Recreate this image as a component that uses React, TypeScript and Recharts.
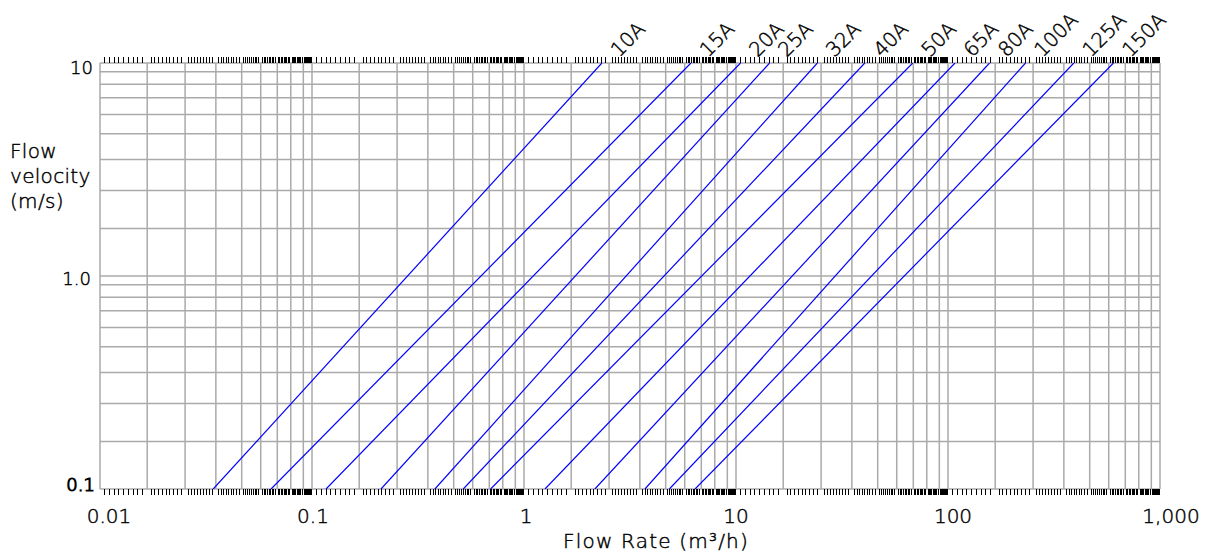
import React from 'react';
import { ComposedChart, Line, XAxis, YAxis, CartesianGrid, LabelList } from 'recharts';

// pipe nominal sizes, one straight line each on the log-log chart
const PIPE_SIZES = ['10A', '15A', '20A', '25A', '32A', '40A', '50A', '65A', '80A', '100A', '125A', '150A'];
// flow rate (m3/h) where each line meets 0.1 m/s and 10 m/s
const FLOW_AT_MIN_VELOCITY = [0.0342, 0.0641, 0.1165, 0.2116, 0.38, 0.517, 0.696, 1.256, 2.16, 3.72, 4.85, 6.41];
const FLOW_AT_MAX_VELOCITY = [2.33, 6.13, 10.5, 14.4, 24.2, 40.5, 68.2, 107.9, 157, 232, 392, 603];
const VELOCITY_MIN = 0.1;
const VELOCITY_MAX = 10;

const X_DECADES = [0.01, 0.1, 1, 10, 100, 1000];
const X_TICK_LABELS = ['0.01', '0.1', '1', '10', '100', '1,000'];
const Y_DECADES = [0.1, 1, 10];
const Y_TICK_LABELS = ['0.1', '1.0', '10'];
// grid lines inside a decade, as multiples of its start value
const GRID_STEPS = [1, 1.67, 2.52, 3.52, 4.66, 5.73, 6.86, 7.94, 9.1];

const FONT = '"DejaVu Sans", sans-serif';
const TEXT_STYLE = { fontFamily: FONT, fontWeight: 300, fill: '#000', stroke: '#000', strokeWidth: 0.45 };
const X_LABEL_SHIFT = [9, 1, 2, 0, 5, 11];
const Y_LABEL_DX = [-5, -9, -7];
const Y_LABEL_DY = [1.5, 8.5, 10.5];

const round = (v: number) => Number(v.toPrecision(6));

function gridValues(decades: number[]) {
    const out: number[] = [];
    decades.slice(0, -1).forEach((d) => GRID_STEPS.forEach((s) => out.push(round(d * s))));
    out.push(decades[decades.length - 1]);
    return out;
}

function minorValues(grid: number[]) {
    const out: number[] = [];
    for (let i = 0; i < grid.length - 1; i++) {
        const r = grid[i + 1] / grid[i];
        for (let k = 1; k < 10; k++) out.push(round(grid[i] * Math.pow(r, k / 10)));
    }
    return out;
}

const X_GRID = gridValues(X_DECADES);
const Y_GRID = gridValues(Y_DECADES);
const X_MINOR = minorValues(X_GRID);
const X_BOTTOM_TICKS = [...X_MINOR, ...X_DECADES].sort((a, b) => a - b);

const pipeData = PIPE_SIZES.map((_, i) => [
    { q: FLOW_AT_MIN_VELOCITY[i], v: VELOCITY_MIN },
    { q: FLOW_AT_MAX_VELOCITY[i], v: VELOCITY_MAX },
]);

const findDecade = (decades: number[], v: number) =>
    decades.findIndex((d) => Math.abs(v - d) / d < 1e-6);

function BottomTick(props: any) {
    const { x, y, payload } = props;
    const i = findDecade(X_DECADES, payload.value);
    if (i >= 0) {
        return (
            <text x={x + X_LABEL_SHIFT[i]} y={y + 34} textAnchor="middle" fontSize={20} style={TEXT_STYLE}>
                {X_TICK_LABELS[i]}
            </text>
        );
    }
    return <line x1={x} x2={x} y1={y} y2={y + 6} stroke="#000" strokeWidth={1} shapeRendering="crispEdges" />;
}

function TopTick(props: any) {
    const { x, y } = props;
    return <line x1={x} x2={x} y1={y - 6} y2={y} stroke="#000" strokeWidth={1} shapeRendering="crispEdges" />;
}

function LeftTick(props: any) {
    const { x, y, payload } = props;
    const i = findDecade(Y_DECADES, payload.value);
    if (i < 0) return <g />;
    return (
        <text x={x + Y_LABEL_DX[i]} y={y + Y_LABEL_DY[i]} textAnchor="end" fontSize={18}
            style={{ ...TEXT_STYLE, strokeWidth: i === 0 ? 1.1 : 0.45 }}>
            {Y_TICK_LABELS[i]}
        </text>
    );
}

function XTitle() {
    return (
        <text x={648} y={540} textAnchor="middle" fontSize={20} letterSpacing={1.2} style={TEXT_STYLE}>
            Flow Rate (m³/h)
        </text>
    );
}

function YTitle() {
    return (
        <text x={2} y={150} fontSize={20} letterSpacing={0.3} style={TEXT_STYLE}>
            <tspan x={2}>Flow</tspan>
            <tspan x={2} dy={25}>velocity</tspan>
            <tspan x={2} dy={25}>(m/s)</tspan>
        </text>
    );
}

export default function App() {
    return (
        <ComposedChart width={1206} height={544} margin={{ top: 50, right: 54, bottom: 13, left: 32 }}>
            <CartesianGrid xAxisId="grid" yAxisId="v" stroke="#aaaaaa" strokeWidth={1.5} />
            <XAxis xAxisId="grid" type="number" dataKey="q" scale="log" domain={[0.01, 1000]}
                allowDataOverflow ticks={X_GRID} interval={0} hide />
            <XAxis xAxisId="bottom" type="number" dataKey="q" scale="log" domain={[0.01, 1000]}
                allowDataOverflow ticks={X_BOTTOM_TICKS} interval={0} height={50}
                axisLine={false} tickLine={false} tickSize={0} tickMargin={0}
                tick={<BottomTick />} label={<XTitle />} />
            <XAxis xAxisId="top" orientation="top" type="number" dataKey="q" scale="log" domain={[0.01, 1000]}
                allowDataOverflow ticks={X_MINOR} interval={0} height={5}
                axisLine={false} tickLine={false} tickSize={0} tickMargin={0} tick={<TopTick />} />
            <YAxis yAxisId="v" type="number" dataKey="v" scale="log" domain={[0.1, 10]}
                allowDataOverflow ticks={Y_GRID} interval={0} width={60}
                axisLine={false} tickLine={false} tickSize={0} tickMargin={0}
                tick={<LeftTick />} label={<YTitle />} />
            {pipeData.map((d, i) => (
                <Line key={PIPE_SIZES[i]} xAxisId="bottom" yAxisId="v" data={d} dataKey="v"
                    stroke="#0000ff" strokeWidth={1.2} dot={false} isAnimationActive={false}>
                    <LabelList dataKey="v" content={(p: any) => p.index === 1 ? (
                        <text x={p.x + 17} y={p.y - 5} transform={`rotate(-45 ${p.x + 17} ${p.y - 5})`}
                            fontSize={20} style={TEXT_STYLE}>
                            {PIPE_SIZES[i]}
                        </text>
                    ) : null} />
                </Line>
            ))}
        </ComposedChart>
    );
}
